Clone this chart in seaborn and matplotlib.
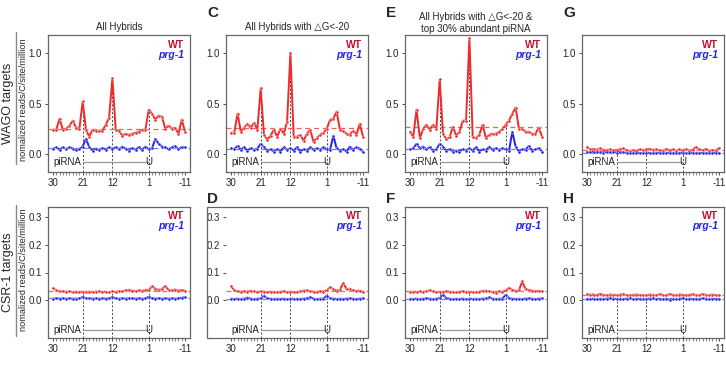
import numpy as np
import pandas as pd
import matplotlib
matplotlib.use("Agg")
import matplotlib.pyplot as plt
import seaborn as sns
from matplotlib.patches import Rectangle
from matplotlib.lines import Line2D

# target positions relative to piRNA 5' end (no 0)
positions = list(range(30, 0, -1)) + list(range(-1, -12, -1))
tick_labels = ["30", "21", "12", "1", "-11"]
mark_positions = [21, 12, 1]

# WAGO targets (top row)
wago_all_wt = [0.24, 0.24, 0.35, 0.24, 0.25, 0.28, 0.33, 0.26, 0.25, 0.52, 0.24, 0.17, 0.24, 0.23,
               0.23, 0.23, 0.29, 0.36, 0.75, 0.24, 0.23, 0.18, 0.20, 0.19, 0.20, 0.21, 0.22, 0.24,
               0.24, 0.44, 0.40, 0.34, 0.38, 0.37, 0.25, 0.28, 0.25, 0.26, 0.20, 0.34, 0.22]
wago_all_prg1 = [0.05, 0.066, 0.04, 0.066, 0.046, 0.066, 0.053, 0.04, 0.046, 0.073, 0.15, 0.066, 0.033,
                 0.053, 0.04, 0.06, 0.04, 0.066, 0.046, 0.066, 0.046, 0.073, 0.053, 0.033, 0.06, 0.04,
                 0.066, 0.04, 0.073, 0.046, 0.056, 0.15, 0.10, 0.073, 0.066, 0.046, 0.066, 0.08, 0.046,
                 0.066, 0.066]
wago_dg_wt = [0.21, 0.21, 0.40, 0.22, 0.26, 0.30, 0.26, 0.31, 0.24, 0.65, 0.19, 0.14, 0.18, 0.24,
              0.17, 0.25, 0.20, 0.32, 1.00, 0.17, 0.17, 0.19, 0.13, 0.20, 0.24, 0.12, 0.155, 0.19,
              0.21, 0.245, 0.34, 0.35, 0.42, 0.24, 0.23, 0.20, 0.19, 0.23, 0.19, 0.30, 0.17]
wago_dg_prg1 = [0.056, 0.046, 0.08, 0.04, 0.066, 0.033, 0.056, 0.04, 0.053, 0.10, 0.066, 0.033, 0.046,
                0.02, 0.046, 0.023, 0.066, 0.04, 0.056, 0.033, 0.066, 0.023, 0.046, 0.033, 0.066, 0.04,
                0.056, 0.04, 0.066, 0.046, 0.04, 0.18, 0.056, 0.033, 0.046, 0.023, 0.073, 0.04, 0.066,
                0.053, 0.02]
wago_top_wt = [0.22, 0.17, 0.44, 0.155, 0.25, 0.29, 0.24, 0.29, 0.25, 0.74, 0.20, 0.145, 0.165, 0.27,
               0.18, 0.22, 0.33, 0.33, 1.15, 0.17, 0.155, 0.19, 0.29, 0.155, 0.19, 0.20, 0.20, 0.22,
               0.245, 0.29, 0.33, 0.40, 0.46, 0.25, 0.245, 0.22, 0.22, 0.20, 0.20, 0.26, 0.17]
wago_top_prg1 = [0.046, 0.056, 0.10, 0.056, 0.073, 0.046, 0.066, 0.033, 0.046, 0.10, 0.073, 0.033, 0.046,
                 0.023, 0.033, 0.023, 0.046, 0.033, 0.056, 0.033, 0.066, 0.023, 0.046, 0.033, 0.073, 0.04,
                 0.056, 0.04, 0.056, 0.046, 0.033, 0.22, 0.073, 0.023, 0.046, 0.04, 0.08, 0.033, 0.046,
                 0.056, 0.023]
wago_ctrl_wt = [0.065, 0.045, 0.050, 0.040, 0.055, 0.040, 0.035, 0.045, 0.035, 0.040, 0.045, 0.055, 0.035,
                0.025, 0.040, 0.030, 0.045, 0.035, 0.045, 0.050, 0.040, 0.045, 0.035, 0.030, 0.050, 0.035,
                0.045, 0.030, 0.045, 0.035, 0.050, 0.030, 0.040, 0.070, 0.045, 0.035, 0.050, 0.030, 0.040,
                0.030, 0.060]
wago_ctrl_prg1 = [0.020, 0.015, 0.020, 0.015, 0.020, 0.010, 0.020, 0.015, 0.020, 0.012, 0.020, 0.015, 0.010,
                  0.008, 0.010, 0.012, 0.008, 0.010, 0.012, 0.010, 0.008, 0.012, 0.010, 0.008, 0.010, 0.012,
                  0.010, 0.008, 0.010, 0.012, 0.010, 0.008, 0.010, 0.008, 0.010, 0.008, 0.010, 0.008, 0.010,
                  0.008, 0.010]

# CSR-1 targets (bottom row)
csr_all_wt = [0.045, 0.036, 0.032, 0.033, 0.031, 0.032, 0.030, 0.031, 0.030, 0.031, 0.030, 0.031, 0.030,
              0.031, 0.032, 0.030, 0.031, 0.029, 0.032, 0.030, 0.033, 0.032, 0.036, 0.038, 0.035, 0.033,
              0.036, 0.034, 0.038, 0.037, 0.050, 0.042, 0.038, 0.040, 0.052, 0.038, 0.036, 0.039, 0.035,
              0.037, 0.035]
csr_all_prg1 = [0.006, 0.007, 0.006, 0.007, 0.006, 0.007, 0.006, 0.006, 0.007, 0.012, 0.008, 0.007, 0.006,
                0.007, 0.006, 0.007, 0.006, 0.008, 0.012, 0.007, 0.006, 0.007, 0.006, 0.008, 0.007, 0.006,
                0.007, 0.006, 0.007, 0.013, 0.008, 0.006, 0.007, 0.006, 0.007, 0.006, 0.007, 0.006, 0.008,
                0.009, 0.012]
csr_dg_wt = [0.052, 0.036, 0.032, 0.031, 0.033, 0.031, 0.034, 0.032, 0.030, 0.032, 0.031, 0.030, 0.031,
             0.029, 0.030, 0.031, 0.032, 0.030, 0.031, 0.029, 0.030, 0.032, 0.035, 0.036, 0.033, 0.031,
             0.029, 0.034, 0.031, 0.036, 0.047, 0.040, 0.035, 0.037, 0.063, 0.040, 0.042, 0.036, 0.034,
             0.035, 0.031]
csr_dg_prg1 = [0.006, 0.005, 0.006, 0.005, 0.006, 0.010, 0.006, 0.005, 0.006, 0.007, 0.017, 0.007, 0.006,
               0.005, 0.006, 0.005, 0.006, 0.005, 0.006, 0.005, 0.006, 0.005, 0.006, 0.007, 0.012, 0.006,
               0.005, 0.006, 0.006, 0.017, 0.008, 0.006, 0.005, 0.006, 0.005, 0.006, 0.007, 0.006, 0.005,
               0.006, 0.007]
csr_top_wt = [0.030, 0.031, 0.029, 0.032, 0.030, 0.033, 0.036, 0.032, 0.030, 0.031, 0.030, 0.032, 0.031,
              0.029, 0.030, 0.031, 0.032, 0.030, 0.031, 0.029, 0.030, 0.031, 0.034, 0.035, 0.033, 0.030,
              0.027, 0.033, 0.030, 0.036, 0.045, 0.038, 0.034, 0.036, 0.068, 0.040, 0.038, 0.035, 0.033,
              0.034, 0.032]
csr_top_prg1 = [0.006, 0.005, 0.006, 0.005, 0.006, 0.007, 0.006, 0.005, 0.006, 0.008, 0.020, 0.008, 0.006,
                0.005, 0.006, 0.005, 0.006, 0.005, 0.006, 0.005, 0.006, 0.005, 0.006, 0.007, 0.011, 0.006,
                0.005, 0.006, 0.006, 0.020, 0.008, 0.006, 0.005, 0.006, 0.005, 0.006, 0.007, 0.006, 0.005,
                0.006, 0.007]
csr_ctrl_wt = [0.022, 0.020, 0.021, 0.019, 0.024, 0.020, 0.018, 0.021, 0.020, 0.019, 0.021, 0.022, 0.019,
               0.018, 0.020, 0.021, 0.019, 0.020, 0.018, 0.021, 0.020, 0.019, 0.022, 0.020, 0.018, 0.023,
               0.020, 0.019, 0.021, 0.020, 0.018, 0.020, 0.022, 0.019, 0.018, 0.023, 0.020, 0.019, 0.021,
               0.019, 0.020]
csr_ctrl_prg1 = [0.006, 0.005, 0.006, 0.005, 0.006, 0.005, 0.006, 0.008, 0.006, 0.005, 0.006, 0.005, 0.006,
                 0.007, 0.005, 0.006, 0.005, 0.006, 0.005, 0.006, 0.007, 0.005, 0.006, 0.005, 0.006, 0.003,
                 0.006, 0.005, 0.006, 0.007, 0.005, 0.006, 0.005, 0.006, 0.005, 0.007, 0.006, 0.005, 0.006,
                 0.005, 0.006]

# background (dashed) levels
wago_wt_base = [0.245, 0.255, 0.27, 0.04]
wago_prg1_base = [0.056, 0.05, 0.046, 0.012]
csr_wt_base = [0.034, 0.033, 0.032, 0.020]
csr_prg1_base = [0.007, 0.006, 0.006, 0.006]

titles = ["All Hybrids", "All Hybrids with \u25b3G<-20",
          "All Hybrids with \u25b3G<-20 &\ntop 30% abundant piRNA", ""]
top_letters = ["", "C", "E", "G"]
bottom_letters = ["", "D", "F", "H"]

RED = "#ee2a2a"
BLUE = "#2323e8"
WT_TEXT = "#c8102e"
FRAME = "#666666"
W, H = 726, 366

sns.set_style("white")
plt.rcParams["font.family"] = ["Liberation Sans", "DejaVu Sans"]


def px_rect(left, top, width, height):
    return [left / W, 1 - (top + height) / H, width / W, height / H]


def draw_panel(ax, wt, mut, wt_base, mut_base, ylim, yticks, bracket_y, frame=True):
    idx = np.arange(len(positions))
    df = pd.DataFrame({"idx": idx, "WT": wt, "prg-1": mut})
    df = df.melt(id_vars="idx", var_name="strain", value_name="reads")
    sns.lineplot(data=df, x="idx", y="reads", hue="strain",
                 palette={"WT": RED, "prg-1": BLUE}, marker="o", markersize=2.2,
                 markeredgewidth=0.3, markeredgecolor="white", linewidth=1.4,
                 legend=False, ax=ax, zorder=3)
    ax.axhline(wt_base, color="#f06060", ls=(0, (4, 3)), lw=0.9, zorder=2)
    ax.axhline(mut_base, color="#7a7af5", ls=(0, (4, 3)), lw=0.9, zorder=2)

    # piRNA position marks
    for p in mark_positions:
        i = positions.index(p)
        ax.plot([i, i], [ylim[0], wt[i]], color="#444444", ls=(0, (2, 2)), lw=0.7, zorder=1)
    i21, i1 = positions.index(21), positions.index(1)
    ax.plot([i21, i1], [bracket_y, bracket_y], color="#999999", lw=0.9, zorder=1)
    ax.text(i21 - 0.3, bracket_y, "piRNA", ha="right", va="center", fontsize=7, color="#222222")
    ax.text(i1, bracket_y, "U", ha="center", va="center", fontsize=7, color="#222222")

    ax.set_xlim(-1.5, 41.5)
    ax.set_ylim(*ylim)
    ax.set_xticks([positions.index(int(t)) for t in tick_labels])
    ax.set_xticklabels(tick_labels)
    ax.set_xticks(idx, minor=True)
    ax.set_yticks(yticks)
    ax.set_yticklabels([f"{v:.1f}" for v in yticks])
    ax.tick_params(axis="both", which="major", labelsize=7, length=2.5, width=0.6,
                   color="#333333", pad=2, bottom=True, left=True)
    ax.tick_params(axis="x", which="minor", length=2, width=0.5, color="#555555", bottom=True)
    ax.set_xlabel("")
    ax.set_ylabel("")
    for sp in ax.spines.values():
        sp.set_visible(frame)
        sp.set_color(FRAME)
        sp.set_linewidth(0.9)

    ax.text(0.96, 0.93, "WT", transform=ax.transAxes, ha="right", va="center",
            fontsize=7.5, fontweight="bold", color=WT_TEXT)
    ax.text(0.96, 0.855, "prg-1", transform=ax.transAxes, ha="right", va="center",
            fontsize=7.5, fontweight="bold", style="italic", color=BLUE)


fig = plt.figure(figsize=(W / 100, H / 100), dpi=100)

lefts = [48, 226, 405, 582]
top_sets = [(wago_all_wt, wago_all_prg1), (wago_dg_wt, wago_dg_prg1),
            (wago_top_wt, wago_top_prg1), (wago_ctrl_wt, wago_ctrl_prg1)]
bottom_sets = [(csr_all_wt, csr_all_prg1), (csr_dg_wt, csr_dg_prg1),
               (csr_top_wt, csr_top_prg1), (csr_ctrl_wt, csr_ctrl_prg1)]

for k, left in enumerate(lefts):
    ax = fig.add_axes(px_rect(left, 35, 142, 137))
    draw_panel(ax, *top_sets[k], wago_wt_base[k], wago_prg1_base[k],
               (-0.18, 1.18), [0.0, 0.5, 1.0], -0.082)
    cx = left + 71
    if "\n" in titles[k]:
        fig.text(cx / W, 1 - 23 / H, titles[k], ha="center", va="center", fontsize=7,
                 linespacing=1.25)
    elif titles[k]:
        fig.text(cx / W, 1 - 27 / H, titles[k], ha="center", va="center", fontsize=7)
    if top_letters[k]:
        fig.text((left - 19) / W, 1 - 13 / H, top_letters[k], ha="left", va="center",
                 fontsize=11, fontweight="bold")

    # D panel frame extends over its tick labels in the original
    frame_left = 207 if k == 1 else left
    ax2 = fig.add_axes(px_rect(left, 207, 142, 131))
    draw_panel(ax2, *bottom_sets[k], csr_wt_base[k], csr_prg1_base[k],
               (-0.135, 0.335), [0.0, 0.1, 0.2, 0.3], -0.105, frame=(k != 1))
    if k == 1:
        fig.patches.append(Rectangle((frame_left / W, 1 - 338 / H), (left + 142 - frame_left) / W,
                                     131 / H, transform=fig.transFigure, fill=False,
                                     edgecolor=FRAME, linewidth=0.9))
    if bottom_letters[k]:
        fig.text((left - 19) / W, 1 - 199 / H, bottom_letters[k], ha="left", va="center",
                 fontsize=11, fontweight="bold")

# row labels
fig.text(8 / W, 1 - 103 / H, "WAGO targets", rotation=90, ha="center", va="center", fontsize=9)
fig.text(23.5 / W, 1 - 100 / H, "nomalized reads/C/site/million", rotation=90, ha="center",
         va="center", fontsize=6.6)
fig.text(8 / W, 1 - 272 / H, "CSR-1 targets", rotation=90, ha="center", va="center", fontsize=9)
fig.text(23.5 / W, 1 - 270 / H, "nomalized reads/C/site/million", rotation=90, ha="center",
         va="center", fontsize=6.6)
for y0, y1 in [(32, 164), (205, 336)]:
    fig.add_artist(Line2D([16 / W, 16 / W], [1 - y0 / H, 1 - y1 / H], color="#888888", lw=1.0))

fig.savefig("out.png", dpi=100)
plt.close(fig)
